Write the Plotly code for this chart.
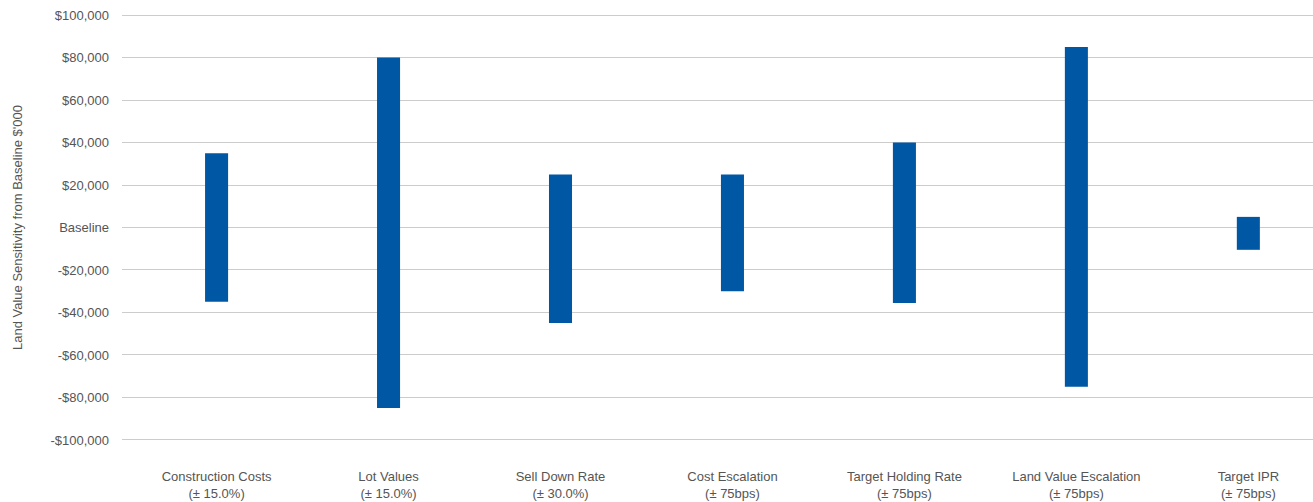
import plotly.graph_objects as go

categories = ["Construction Costs", "Lot Values", "Sell Down Rate", "Cost Escalation",
              "Target Holding Rate", "Land Value Escalation", "Target IPR"]
ranges = ["(± 15.0%)", "(± 15.0%)", "(± 30.0%)", "(± 75bps)", "(± 75bps)", "(± 75bps)", "(± 75bps)"]
upside = [35000, 80000, 25000, 25000, 40000, 85000, 5000]
downside = [-35000, -85000, -45000, -30000, -35500, -75000, -10500]

y_tickvals = [-100000, -80000, -60000, -40000, -20000, 0, 20000, 40000, 60000, 80000, 100000]
y_ticktext = ["-$100,000", "-$80,000", "-$60,000", "-$40,000", "-$20,000", "Baseline",
              "$20,000", "$40,000", "$60,000", "$80,000", "$100,000"]

x_pos = list(range(len(categories)))
x_labels = [f"{c}<br>{r}" for c, r in zip(categories, ranges)]

fig = go.Figure()
fig.add_trace(go.Bar(
    x=x_pos,
    y=[u - d for u, d in zip(upside, downside)],
    base=downside,
    width=0.134,
    marker=dict(color="#0057a4", line=dict(width=0)),
    hoverinfo="skip",
))

font_family = "Liberation Sans, Arial, Helvetica, sans-serif"
fig.update_layout(
    width=1313, height=502,
    margin=dict(l=122, r=0, t=14, b=61),
    paper_bgcolor="white", plot_bgcolor="white",
    showlegend=False,
    font=dict(family=font_family, size=13, color="#555555"),
    xaxis=dict(
        tickmode="array", tickvals=x_pos, ticktext=x_labels,
        range=[-0.55, 6.376],
        showgrid=False, zeroline=False, showline=False, ticks="",
        tickfont=dict(size=13, color="#555555"),
        ticklabelstandoff=26,
    ),
    yaxis=dict(
        range=[-100500, 100500],
        tickmode="array", tickvals=y_tickvals, ticktext=y_ticktext,
        showgrid=True, gridcolor="#cccccc", gridwidth=1,
        zeroline=True, zerolinecolor="#cccccc", zerolinewidth=1,
        showline=False, ticks="",
        tickfont=dict(size=13, color="#555555"),
        ticklabelstandoff=12,
        title=dict(text="Land Value Sensitivity from Baseline $'000",
                   font=dict(size=13, color="#555555"), standoff=24),
    ),
)

fig.write_html("out.html")
